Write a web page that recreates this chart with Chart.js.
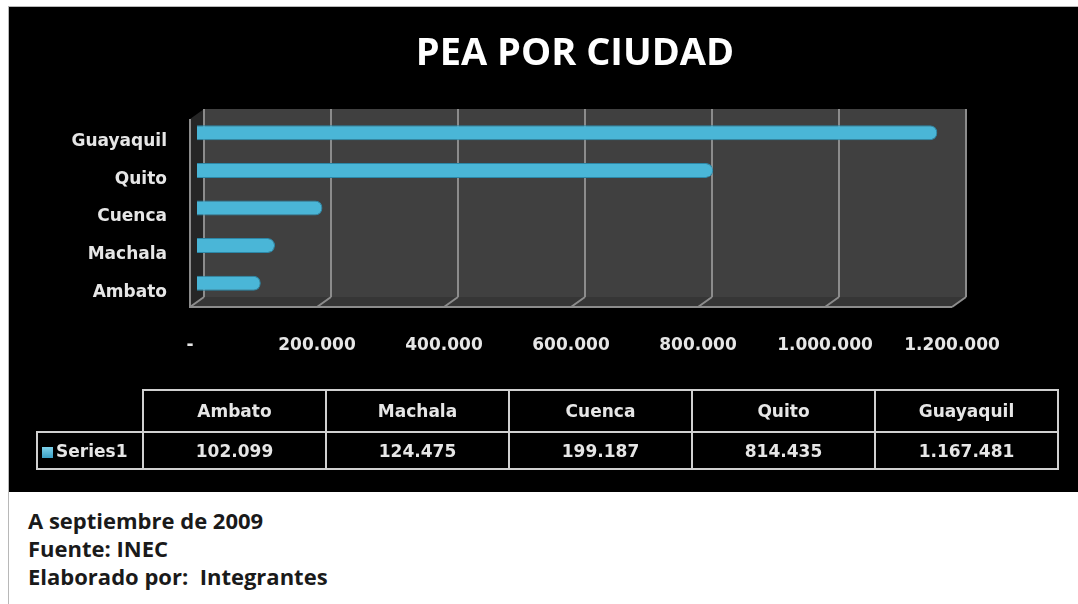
<!DOCTYPE html>
<html>
<head>
<meta charset="utf-8">
<script src="https://cdn.jsdelivr.net/npm/chart.js@4"></script>
<style>
  body { margin: 0; background: #fff; width: 1078px; height: 604px; overflow: hidden; position: relative; }
  #frame { position: absolute; left: 8px; top: 6px; right: 0; bottom: 0; border-left: 1px solid #b8b8b8; border-top: 1px solid #b8b8b8; }
  #panel { position: absolute; left: 9px; top: 7px; width: 1069px; height: 485px; background: #000; }
  #chart { position: absolute; left: 9px; top: 7px; }
  #title { position: absolute; left: 375px; width: 400px; top: 27px; text-align: center;
           font: bold 38px "Open Sans", sans-serif; color: #fff; line-height: 46px; }
  #tbl { position: absolute; left: 36px; top: 389px; border-collapse: collapse; table-layout: fixed;
         font: bold 17px "DejaVu Sans", sans-serif; color: #e6e6e6; }
  #tbl td { border: 2px solid #d0d0d0; text-align: center; padding: 0; }
  #tbl tr.head td { height: 40px; }
  #tbl tr.vals td { height: 35px; }
  #tbl td.corner { border-top: none; border-left: none; border-right: 2px solid #d0d0d0; }
  #tbl td.series { text-align: left; padding-left: 4px; }
  .key { display: inline-block; width: 11px; height: 11px; margin-right: 3px; vertical-align: -1px;
         background: linear-gradient(#7fd3ec, #3a9fc4); }
  #notes { position: absolute; left: 28px; top: 506px; font: bold 22px "Open Sans", sans-serif; color: #1a1a1a; line-height: 28px; }
</style>
</head>
<body>
<div id="frame"></div>
<div id="panel"></div>
<canvas id="chart" width="1069" height="485"></canvas>
<div id="title"></div>
<table id="tbl"></table>
<div id="notes">A septiembre de 2009<br>Fuente: INEC<br>Elaborado por:&nbsp; Integrantes</div>
<script>
// data (table order, Excel draws first category at the bottom)
const cities = ["Ambato", "Machala", "Cuenca", "Quito", "Guayaquil"];
const pea = [102099, 124475, 199187, 814435, 1167481];
const seriesName = "Series1";
const chartTitle = "PEA POR CIUDAD";

function fmt(v) {
  return String(v).replace(/\B(?=(\d{3})+(?!\d))/g, ".");
}

document.getElementById("title").textContent = chartTitle;

// data table under the chart
const tbl = document.getElementById("tbl");
let head = '<colgroup><col style="width:106px">' + cities.map(() => '<col style="width:183px">').join("") + "</colgroup>";
head += '<tr class="head"><td class="corner"></td>' + cities.map((c) => `<td>${c}</td>`).join("") + "</tr>";
head += `<tr class="vals"><td class="series"><span class="key"></span>${seriesName}</td>` + pea.map((v) => `<td>${fmt(v)}</td>`).join("") + "</tr>";
tbl.innerHTML = head;

// fake 3D box: back wall, left wall, floor
const DX = -14, DY = 10;
const box3d = {
  id: "box3d",
  beforeDraw(chart) {
    const { ctx, chartArea: a } = chart;
    ctx.save();
    ctx.fillStyle = "#404040";
    ctx.fillRect(a.left, a.top, a.right - a.left, a.bottom - a.top);
    // left side wall
    ctx.fillStyle = "#262626";
    ctx.beginPath();
    ctx.moveTo(a.left, a.top);
    ctx.lineTo(a.left + DX, a.top + DY);
    ctx.lineTo(a.left + DX, a.bottom + DY);
    ctx.lineTo(a.left, a.bottom);
    ctx.closePath();
    ctx.fill();
    // floor
    ctx.fillStyle = "#363636";
    ctx.beginPath();
    ctx.moveTo(a.left, a.bottom);
    ctx.lineTo(a.right, a.bottom);
    ctx.lineTo(a.right + DX, a.bottom + DY);
    ctx.lineTo(a.left + DX, a.bottom + DY);
    ctx.closePath();
    ctx.fill();
    // edges and floor grid
    ctx.strokeStyle = "#8c8c8c";
    ctx.lineWidth = 2;
    ctx.beginPath();
    ctx.moveTo(a.left + DX, a.top + DY);
    ctx.lineTo(a.left + DX, a.bottom + DY);
    ctx.lineTo(a.right + DX, a.bottom + DY);
    const xs = chart.scales.x;
    xs.ticks.forEach((t) => {
      const px = xs.getPixelForValue(t.value);
      ctx.moveTo(px, a.bottom);
      ctx.lineTo(px + DX, a.bottom + DY);
    });
    ctx.stroke();
    ctx.restore();
  },
  beforeDatasetsDraw(chart) {
    chart.ctx.save();
    chart.ctx.translate(DX / 2 - 1, DY / 2);
  },
  afterDatasetsDraw(chart) {
    chart.ctx.restore();
  },
};

const axisFont = { family: "DejaVu Sans", size: 17, weight: "bold" };

new Chart(document.getElementById("chart"), {
  type: "bar",
  data: {
    labels: cities,
    datasets: [
      {
        label: seriesName,
        data: pea,
        backgroundColor: "#4ab6d7",
        borderColor: "#2c88a8",
        borderWidth: 1,
        borderSkipped: "start",
        borderRadius: 7,
        categoryPercentage: 1,
        barPercentage: 0.4,
      },
    ],
  },
  options: {
    indexAxis: "y",
    responsive: false,
    animation: false,
    layout: { padding: { left: 0, right: 112, top: 102, bottom: 115 } },
    plugins: {
      legend: { display: false },
      tooltip: { enabled: false },
    },
    scales: {
      x: {
        min: 0,
        max: 1200000,
        ticks: {
          stepSize: 200000,
          color: "#e6e6e6",
          font: axisFont,
          padding: 38,
          labelOffset: DX,
          maxRotation: 0,
          callback: (v) => (v === 0 ? "-" : fmt(v)),
        },
        grid: { color: "#8c8c8c", lineWidth: 2, drawTicks: false },
        border: { display: false },
        afterFit: (s) => { s.height = 80; },
      },
      y: {
        reverse: true,
        ticks: { color: "#e6e6e6", font: axisFont, padding: 37, labelOffset: 14 },
        grid: { display: false, drawTicks: false },
        border: { display: false },
        afterFit: (s) => { s.width = 195; },
      },
    },
  },
  plugins: [box3d],
});
</script>
</body>
</html>
